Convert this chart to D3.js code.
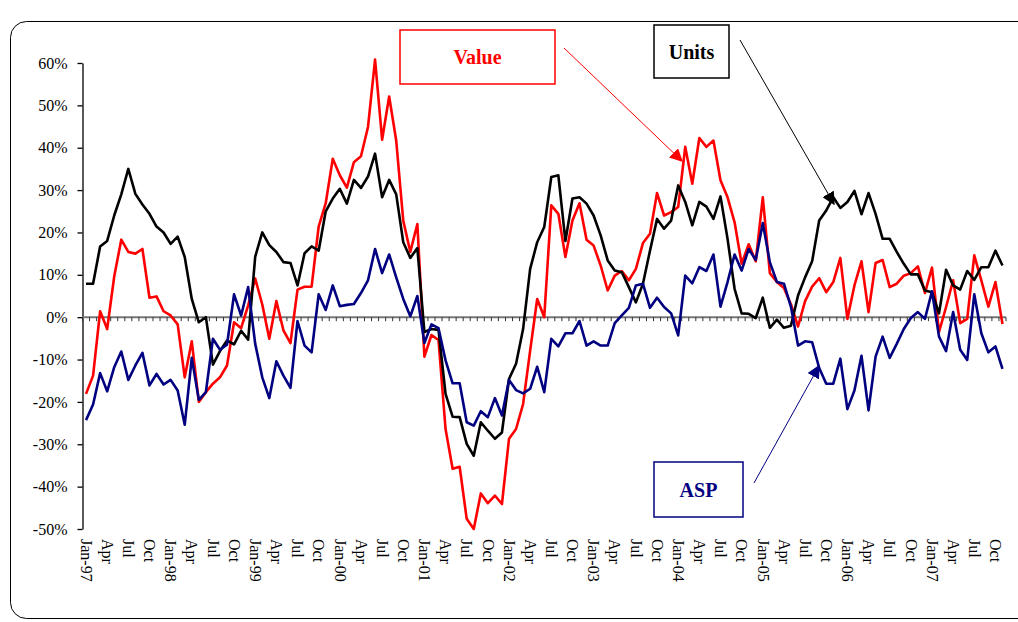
<!DOCTYPE html>
<html>
<head>
<meta charset="utf-8">
<script src="https://cdn.jsdelivr.net/npm/d3@7"></script>
<style>
    body { margin: 0; background: #fff; }
    svg { display: block; font-family: "Liberation Serif", "Times New Roman", serif; }
</style>
</head>
<body>
<svg id="chart" width="1018" height="622" viewBox="0 0 1018 622"></svg>
<script>
// year-on-year growth, % (Jan-97 .. Nov-07)
const units = [7.9, 7.9, 16.7, 18, 24, 29, 35, 29.1, 26.6, 24.4, 21.4, 20,
    17.3, 19, 14.2, 4.3, -1.2, 0, -11.2, -8, -5.5, -6.4, -3.2, -5.3,
    14.3, 20, 17, 15.4, 13, 12.8, 7.5, 15.1, 16.7, 15.7, 25, 28,
    30.3, 26.8, 32.4, 30.5, 33.2, 38.6, 28.3, 32.4, 29, 17.7, 14, 16.3,
    -3.5, -2.8, -3, -18.1, -23.5, -23.6, -29.9, -32.7, -24.8, -26.8, -28.7, -27.2,
    -14.6, -11, -2.8, 11.4, 17.7, 21.3, 33.1, 33.5, 18, 28, 28.3, 26.8,
    24, 19.3, 13.4, 11, 10.6, 7.1, 3.5, 7.9, 15.7, 23.2, 20.9, 22.8,
    31.1, 27.2, 21.7, 27.2, 26.1, 23.2, 28.5, 18.5, 6.7, 0.9, 0.8, -0.2,
    4.6, -2.5, -0.6, -2.5, -2, 5.1, 9.4, 13.2, 22.8, 25.2, 28.3, 25.8,
    27.2, 29.8, 24.3, 29.3, 24.4, 18.5, 18.5, 15.4, 12.6, 10.1, 10.1, 6.3,
    5.9, 0.9, 11.2, 7.5, 6.5, 10.9, 8.8, 11.8, 11.8, 15.7, 12.2]

const value = [-18.1, -13.8, 1.4, -2.8, 9.6, 18.3, 15.4, 15, 16.1, 4.6, 4.9, 1.4,
    0.4, -1.7, -14.2, -5.7, -20, -17.7, -15.7, -14.2, -11.4, -1.2, -2.6, 2.8,
    9.1, 3, -5.1, 3.8, -3.1, -6.1, 6.5, 7.2, 7.2, 21.4, 26.9, 37.4,
    33.5, 30.6, 36.6, 38, 44.9, 60.8, 41.9, 52.1, 41.7, 22.8, 15.4, 22,
    -9.3, -4.2, -5.4, -26.4, -35.8, -35.3, -47.6, -50, -41.6, -43.9, -42.1, -44.1,
    -28.7, -26.4, -20.5, -7.9, 4.3, 0, 26.4, 24.4, 14.2, 22.8, 26.9, 18.3,
    16.9, 12.2, 6.3, 9.8, 10.9, 8.7, 11.4, 17.5, 19.7, 29.3, 24, 24.8,
    26, 40.2, 31.5, 42.3, 40.2, 41.7, 32.3, 28.3, 22.4, 12.6, 17.2, 13.2,
    28.3, 10.4, 8.3, 6.9, 3, -2.2, 3.8, 7.2, 9.2, 5.9, 8.3, 14,
    -0.4, 7.5, 13.2, 1.2, 12.8, 13.5, 7.1, 7.9, 9.8, 10.4, 12, 5.7,
    11.7, -3.5, 2.4, 8.7, -1.4, -0.4, 14.6, 8.7, 2.5, 8.3, -1.6]

const asp = [-24.3, -20.6, -13.2, -17.5, -11.8, -8.1, -14.8, -11.4, -8.4, -16.1, -13.4, -15.9,
    -14.8, -17.3, -25.4, -9.6, -19.5, -17.7, -5.1, -7.7, -6.5, 5.4, 0.4, 7.1,
    -6.3, -14.2, -19.1, -10.4, -13.8, -16.7, -0.9, -6.7, -8.3, 5.4, 1.7, 7.5,
    2.6, 2.9, 3.1, 5.7, 8.7, 16.1, 10.4, 14.8, 9.4, 4.3, 0.2, 5,
    -6.1, -1.7, -2.6, -10.2, -15.6, -15.6, -24.8, -25.6, -22.2, -23.6, -19.1, -23.2,
    -14.8, -17.2, -18, -16.9, -11.7, -17.7, -5.1, -6.9, -3.8, -3.8, -0.9, -6.7,
    -5.7, -6.7, -6.7, -1.4, 0.4, 2.2, 7.5, 7.9, 2.2, 4.6, 2.4, 0.9,
    -4.3, 9.8, 8, 11.8, 10.9, 14.8, 2.5, 8.3, 14.8, 11, 16.1, 13.5,
    22.2, 13, 8.3, 7.9, 2.4, -6.7, -5.7, -5.9, -12, -15.7, -15.7, -9.8,
    -21.7, -17.3, -9.1, -22, -9.3, -4.6, -9.6, -6.3, -2.8, -0.2, 1.2, -0.4,
    6.1, -4.6, -8, 1.2, -7.7, -10.1, 5.4, -3.8, -8.3, -6.9, -12.2]

const first_month = new Date(1997, 0, 1)
const months = d3.timeMonth.range(first_month, d3.timeMonth.offset(first_month, units.length))
const y_ticks = [-50, -40, -30, -20, -10, 0, 10, 20, 30, 40, 50, 60]

const serif = "Liberation Serif, Times New Roman, serif"
const svg = d3.select("#chart")

// outer frame (rounded, runs off the right edge)
svg.append("rect")
    .attr("x", 10.5).attr("y", 21.5)
    .attr("width", 1040).attr("height", 597)
    .attr("rx", 16)
    .attr("fill", "none")
    .attr("stroke", "#000")
    .attr("stroke-width", 1)

const x = d3.scaleBand()
    .domain(d3.range(months.length))
    .range([82.5, 1006])
const y = d3.scaleLinear()
    .domain([-50, 60])
    .range([529, 63])
const cx = i => x(i) + x.bandwidth() / 2

// y axis
const y_axis = svg.append("g")
    .attr("transform", "translate(82.5,0)")
    .call(d3.axisLeft(y)
        .tickValues(y_ticks)
        .tickSize(5)
        .tickSizeOuter(0)
        .tickPadding(10)
        .tickFormat(d => d + "%"))
y_axis.attr("font-family", serif)
y_axis.select(".domain").attr("stroke", "#000").attr("stroke-width", 1.3)
y_axis.selectAll("line").attr("stroke", "#000").attr("stroke-width", 1.3)
y_axis.selectAll("text")
    .attr("font-family", serif)
    .attr("font-size", 16)
    .attr("fill", "#000")

// category axis sits on the 0% line, ticks between months
const zero = svg.append("g")
zero.append("line")
    .attr("x1", x.range()[0]).attr("x2", x.range()[1])
    .attr("y1", y(0)).attr("y2", y(0))
    .attr("stroke", "#777")
    .attr("stroke-width", 2)
zero.selectAll(".tick")
    .data(d3.range(months.length + 1))
    .enter()
    .append("line")
    .attr("x1", i => i < months.length ? x(i) : x.range()[1])
    .attr("x2", i => i < months.length ? x(i) : x.range()[1])
    .attr("y1", y(0))
    .attr("y2", y(0) + 4)
    .attr("stroke", "#333")
    .attr("stroke-width", 1)

// month labels every quarter, at the bottom
const fmt_month = d3.timeFormat("%b")
const fmt_year = d3.timeFormat("%b-%y")
svg.append("g")
    .attr("font-family", serif)
    .selectAll("text")
    .data(months.map((m, i) => ({m, i})).filter(d => d.m.getMonth() % 3 == 0))
    .enter()
    .append("text")
    .attr("transform", d => `translate(${cx(d.i)},539) rotate(90)`)
    .attr("dy", "0.33em")
    .attr("font-family", serif)
    .attr("font-size", 16)
    .attr("fill", "#000")
    .text(d => d.m.getMonth() == 0 ? fmt_year(d.m) : fmt_month(d.m))

// series
const line = d3.line()
    .x((d, i) => cx(i))
    .y(d => y(d))

const series = [
    {name: "Value", values: value, color: "#ff0000"},
    {name: "Units", values: units, color: "#000000"},
    {name: "ASP", values: asp, color: "#000080"}
]
svg.append("g")
    .selectAll("path")
    .data(series)
    .enter()
    .append("path")
    .attr("d", d => line(d.values))
    .attr("fill", "none")
    .attr("stroke", d => d.color)
    .attr("stroke-width", 2.6)
    .attr("stroke-linejoin", "round")

// callouts: box + label + arrow
const defs = svg.append("defs")
series.forEach(s => {
    defs.append("marker")
        .attr("id", "arrow-" + s.name)
        .attr("viewBox", "0 0 10 10")
        .attr("refX", 9).attr("refY", 5)
        .attr("markerUnits", "userSpaceOnUse")
        .attr("markerWidth", 13).attr("markerHeight", 13)
        .attr("orient", "auto")
        .append("path")
        .attr("d", "M0,0L10,5L0,10z")
        .attr("fill", s.color)
})

const callouts = [
    {name: "Value", color: "#ff0000", box: [400, 30, 155, 54], arrow: [564, 48, 682, 161]},
    {name: "Units", color: "#000000", box: [654, 25, 75, 53], arrow: [740, 40, 834, 204]},
    {name: "ASP", color: "#000080", box: [654, 462, 89, 55], arrow: [754, 483, 819, 366]}
]
const callout = svg.append("g")
    .selectAll("g")
    .data(callouts)
    .enter()
    .append("g")

callout.append("rect")
    .attr("x", d => d.box[0]).attr("y", d => d.box[1])
    .attr("width", d => d.box[2]).attr("height", d => d.box[3])
    .attr("fill", "#fff")
    .attr("stroke", d => d.color)
    .attr("stroke-width", 1.5)

callout.append("text")
    .attr("x", d => d.box[0] + d.box[2] / 2)
    .attr("y", d => d.box[1] + d.box[3] / 2)
    .attr("dy", "0.35em")
    .attr("text-anchor", "middle")
    .attr("font-family", serif)
    .attr("font-size", 20)
    .attr("font-weight", "bold")
    .attr("fill", d => d.color)
    .text(d => d.name)

callout.append("line")
    .attr("x1", d => d.arrow[0]).attr("y1", d => d.arrow[1])
    .attr("x2", d => d.arrow[2]).attr("y2", d => d.arrow[3])
    .attr("stroke", d => d.color)
    .attr("stroke-width", 1)
    .attr("marker-end", d => `url(#arrow-${d.name})`)
</script>
</body>
</html>
